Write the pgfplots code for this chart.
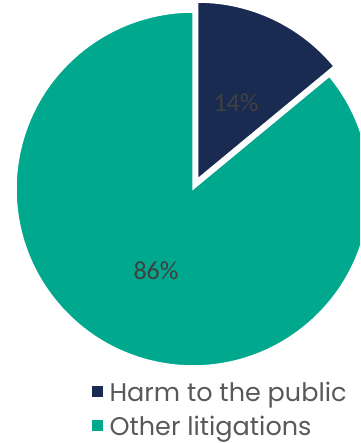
\documentclass[border=0pt]{standalone}
\usepackage{pgfplots}
\pgfplotsset{compat=1.18}
\usepackage{pgfplotstable}
\usepackage{fontspec}
\setmainfont{Poppins}
\newfontfamily\calib{Carlito}
\definecolor{pienavy}{RGB}{26,43,82}
\definecolor{pieteal}{RGB}{0,168,142}
\definecolor{lbl}{RGB}{64,64,64}
\definecolor{legtxt}{RGB}{89,89,89}

\pgfplotstableread{
name value
Harm 14
Other 86
}\piedata
\pgfplotstablegetelem{0}{value}\of\piedata \let\vA\pgfplotsretval
\pgfplotstablegetelem{1}{value}\of\piedata \let\vB\pgfplotsretval
\pgfmathsetmacro\aA{90-3.6*\vA}
\pgfmathsetmacro\aM{90-1.8*\vA}

\begin{document}
\begin{tikzpicture}
\begin{axis}[x=1pt,y=1pt,xmin=0,xmax=360,ymin=-443,ymax=0,
  hide axis, clip=true, scale only axis,
  legend style={at={(axis cs:92,-380)}, anchor=north west,
    draw=none, fill=none, font=\fontsize{25.5}{28}\selectfont, text=legtxt,
    row sep=8.5pt, inner sep=0pt, cells={anchor=west},
    /tikz/every odd column/.append style={column sep=5pt}},
  legend cell align=left,
  legend image code/.code={\fill[#1] (0pt,-4pt) rectangle (10pt,6pt);},
]
\addlegendimage{pienavy}
\addlegendentry{Harm to the public}
\addlegendimage{pieteal}
\addlegendentry{Other litigations}
\fill[pieteal, draw=white, line width=1.5pt] (axis cs:193,-189) -- ++(\aA:177pt)
   arc[start angle=\aA, end angle=-270, radius=177pt] -- cycle;
\fill[pienavy, draw=white, line width=1.5pt] ([shift={(\aM:11pt)}]axis cs:193,-189) -- ++(90:177pt)
   arc[start angle=90, end angle=\aA, radius=177pt] -- cycle;
\node[font=\calib\fontsize{26}{30}\selectfont, text=lbl] at (axis cs:236,-103) {14\%};
\node[font=\calib\fontsize{26}{30}\selectfont, text=lbl] at (axis cs:156,-271) {86\%};
\end{axis}
\pgfresetboundingbox
\path[use as bounding box] (current axis.south west) rectangle (current axis.north east);
\end{tikzpicture}
\end{document}
